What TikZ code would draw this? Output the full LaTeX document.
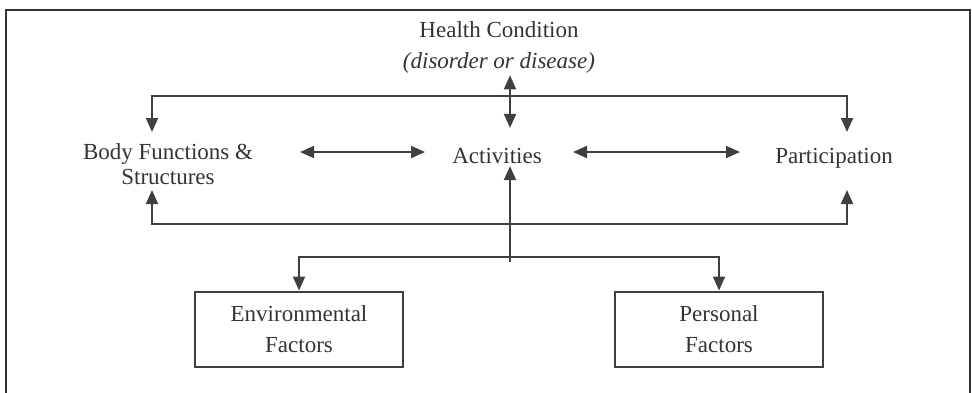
\documentclass[tikz,border=0pt]{standalone}
\usepackage{fontspec}
\setmainfont{Liberation Serif}
\usetikzlibrary{arrows.meta}
\newcommand{\icfSize}[0]{\fontsize{11.5}{15.5}\selectfont}

\begin{document}
\begin{tikzpicture}[x=0.5pt, y=-0.5pt]
  \tikzset{
    wire/.style={draw=black!75, line width=1pt,
      >={Triangle[length=7pt,width=6pt]}},
    label/.style={align=center, text=black!80, font=\icfSize, inner sep=1pt},
    factorbox/.style={label, draw=black!75, line width=1pt,
      minimum width=104pt, minimum height=37.5pt}
  }
  \useasboundingbox (0,0) rectangle (972,392);
  \draw[black!80, line width=1pt] (6,400) -- (6,10) -- (970,10) -- (970,400);

  \node[label] (hc) at (499,47) {Health Condition\\\textit{(disorder or disease)}};
  \node[label] (bfs) at (168,164) {Body Functions \&\\[-3pt]Structures};
  \node[label] (act) at (497,156) {Activities};
  \node[label] (par) at (834,158) {Participation};
  \node[factorbox] (env) at (299,329) {Environmental\\Factors};
  \node[factorbox] (per) at (719,329) {Personal\\Factors};

  \coordinate (spine) at (510,0);
  \coordinate (bfsTop) at (152,132);
  \coordinate (bfsBot) at (152,190);
  \coordinate (parTop) at (847,132);
  \coordinate (parBot) at (847,190);
  \coordinate (split) at (510,257);
  \coordinate (stub) at (510,262);

  \draw[wire, <->] (bfsTop) |- (spine |- 0,96) -| (parTop);
  \draw[wire, <->] (bfsBot) |- (spine |- 0,224) -| (parBot);
  \draw[wire, <->] (act.north -| spine) ++(0,-18) -- (hc.south -| spine);
  \draw[wire, <->] (300,152) coordinate (bfsR) -- (425,152) coordinate (actL);
  \draw[wire, <->] (573,152) coordinate (actR) -- (740,152) coordinate (parL);
  \draw[wire, ->] (stub) -- (act.south -| spine);
  \draw[wire, <->] (env.north) |- (split) -| (per.north);
\end{tikzpicture}
\end{document}
